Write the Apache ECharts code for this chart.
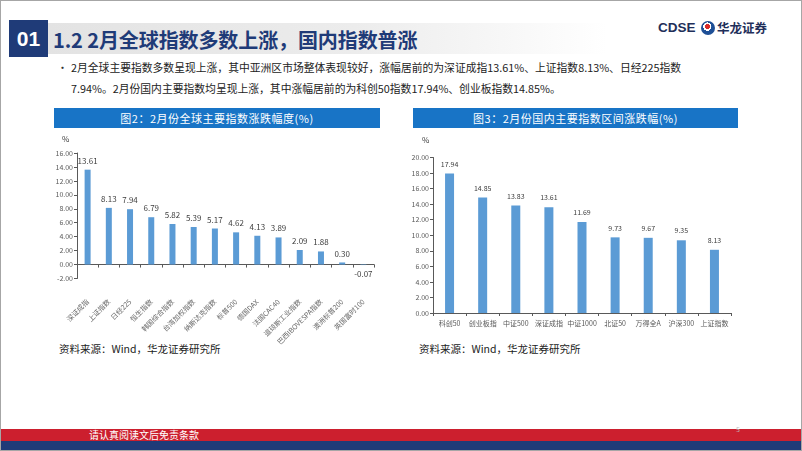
<!DOCTYPE html>
<html><head><meta charset="utf-8">
<script src="https://cdn.jsdelivr.net/npm/echarts@6/dist/echarts.min.js"></script>
<style>
html,body{margin:0;padding:0;background:#fff;}
#page{position:relative;width:802px;height:451px;overflow:hidden;font-family:"Noto Sans CJK SC","Noto Sans",sans-serif;box-sizing:border-box;border:1px solid #a6a6a6;}
.abs{position:absolute;white-space:nowrap;}
#chart{position:absolute;left:0;top:0;width:802px;height:451px;z-index:5;}
</style></head>
<body>
<div id="page">
  <div class="abs" style="left:46px;top:22px;width:560px;height:31px;background:linear-gradient(90deg,#e3e3e3 0%,#ececec 55%,#ffffff 100%);"></div>
  <div class="abs" style="left:8px;top:19px;width:39px;height:37px;background:#1f3b78;color:#fff;font-family:'Liberation Sans',Arial,sans-serif;font-weight:bold;font-size:21px;line-height:37px;text-align:center;">01</div>
  <div class="abs" style="left:52px;top:23px;height:31px;line-height:31px;color:#1f3b78;font-weight:bold;font-size:20px;letter-spacing:-0.1px;">1.2 2月全球指数多数上涨，国内指数普涨</div>
  <div class="abs" style="left:657px;top:17px;height:20px;line-height:20px;color:#1f2f5a;font-family:'Liberation Sans',Arial,sans-serif;font-weight:bold;font-size:13.5px;">CDSE</div>
  <div class="abs" style="left:700px;top:20px;width:14px;height:14px;border-radius:50%;background:radial-gradient(circle at 45% 40%,#d82c2c 0 22%,#ffffff 23% 36%,#1e4f96 37% 100%);"></div>
  <div class="abs" style="left:716px;top:17px;height:20px;line-height:20px;color:#1f2f5a;font-weight:bold;font-size:12.5px;">华龙证券</div>
  <div class="abs" style="left:56px;top:57px;height:18px;line-height:18px;font-size:11px;color:#333;">•</div>
  <div class="abs" style="left:70px;top:57px;height:18px;line-height:18px;font-size:10.8px;color:#222;">2月全球主要指数多数呈现上涨，其中亚洲区市场整体表现较好，涨幅居前的为深证成指13.61%、上证指数8.13%、日经225指数</div>
  <div class="abs" style="left:70px;top:78px;height:18px;line-height:18px;font-size:10.8px;color:#222;">7.94%。2月份国内主要指数均呈现上涨，其中涨幅居前的为科创50指数17.94%、创业板指数14.85%。</div>
  <div class="abs" style="left:53px;top:107px;width:326px;height:20px;line-height:20px;background:#1874c6;color:#fff;font-size:11px;text-align:center;letter-spacing:0.5px;">图2：2月份全球主要指数涨跌幅度(%)</div>
  <div class="abs" style="left:412px;top:107px;width:325px;height:20px;line-height:20px;background:#1874c6;color:#fff;font-size:11px;text-align:center;letter-spacing:0.5px;">图3：2月份国内主要指数区间涨跌幅(%)</div>
  <div class="abs" style="left:58px;top:340px;height:16px;line-height:16px;font-size:10.5px;color:#222;">资料来源：Wind，华龙证券研究所</div>
  <div class="abs" style="left:418px;top:340px;height:16px;line-height:16px;font-size:10.5px;color:#222;">资料来源：Wind，华龙证券研究所</div>
  <div class="abs" style="left:0;top:428px;width:802px;height:12px;background:#cc1f2e;"></div>
  <div class="abs" style="left:0;top:440px;width:802px;height:11px;background:#1f3b78;"></div>
  <div class="abs" style="left:88px;top:427px;height:14px;line-height:14px;font-size:10px;color:#fff;">请认真阅读文后免责条款</div>
  <div class="abs" style="left:735px;top:423px;height:10px;line-height:10px;font-size:7px;color:#bbb;">5</div>
  <div id="chart"></div>
</div>
<script>
const globalCats = ['深证成指','上证指数','日经225','恒生指数','韩国综合指数','台湾加权指数','纳斯达克指数','标普500','德国DAX','法国CAC40','道琼斯工业指数','巴西IBOVESPA指数','澳洲标普200','英国富时100'];
const globalVals = [13.61, 8.13, 7.94, 6.79, 5.82, 5.39, 5.17, 4.62, 4.13, 3.89, 2.09, 1.88, 0.30, -0.07];
const domCats = ['科创50','创业板指','中证500','深证成指','中证1000','北证50','万得全A','沪深300','上证指数'];
const domVals = [17.94, 14.85, 13.83, 13.61, 11.69, 9.73, 9.67, 9.35, 8.13];
const leftAxisRange = {min: -2, max: 16, interval: 2};
const rightAxisRange = {min: 0, max: 20, interval: 2};

const axisColor = '#595959';
const chart = echarts.init(document.getElementById('chart'), null, {renderer: 'canvas'});
const fontFam = '"Noto Sans CJK SC", "Noto Sans", sans-serif';

chart.setOption({
  backgroundColor: 'transparent',
  animation: false,
  textStyle: {fontFamily: fontFam},
  grid: [
    {left: 76, top: 152, width: 297, height: 125.5},
    {left: 432, top: 156.5, width: 298, height: 155.5}
  ],
  graphic: [
    {type: 'text', left: 61, top: 134, style: {text: '%', fontSize: 8, fill: '#404040', fontFamily: fontFam}},
    {type: 'text', left: 421, top: 135, style: {text: '%', fontSize: 8, fill: '#404040', fontFamily: fontFam}}
  ],
  xAxis: [
    {gridIndex: 0, type: 'category', data: globalCats,
     axisLine: {onZero: true, lineStyle: {color: axisColor}},
     axisTick: {show: true, length: 3, lineStyle: {color: axisColor}},
     axisLabel: {rotate: 45, fontSize: 7, color: '#6a6a6a', margin: 22, interval: 0}},
    {gridIndex: 1, type: 'category', data: domCats,
     axisLine: {lineStyle: {color: axisColor}},
     axisTick: {show: true, length: 3, lineStyle: {color: axisColor}},
     axisLabel: {fontSize: 7, color: '#595959', margin: 7, interval: 0}}
  ],
  yAxis: [
    {gridIndex: 0, type: 'value', min: leftAxisRange.min, max: leftAxisRange.max, interval: leftAxisRange.interval,
     splitLine: {show: false},
     axisLine: {show: true, lineStyle: {color: axisColor}},
     axisTick: {show: true, length: 3, lineStyle: {color: axisColor}},
     axisLabel: {fontSize: 7, color: '#595959', margin: 4, formatter: v => v.toFixed(2)}},
    {gridIndex: 1, type: 'value', min: rightAxisRange.min, max: rightAxisRange.max, interval: rightAxisRange.interval,
     splitLine: {show: false},
     axisLine: {show: true, lineStyle: {color: axisColor}},
     axisTick: {show: true, length: 3, lineStyle: {color: axisColor}},
     axisLabel: {fontSize: 7, color: '#595959', margin: 4, formatter: v => v.toFixed(2)}}
  ],
  series: [
    {type: 'bar', xAxisIndex: 0, yAxisIndex: 0, barWidth: 6,
     itemStyle: {color: '#5b9bd5'},
     data: globalVals.map(v => ({value: v, label: {position: v < 0 ? 'bottom' : 'top'}})),
     label: {show: true, fontSize: 8, color: '#404040', distance: 5, formatter: p => p.value.toFixed(2)}},
    {type: 'bar', xAxisIndex: 1, yAxisIndex: 1, barWidth: 9,
     itemStyle: {color: '#5b9bd5'},
     data: domVals,
     label: {show: true, position: 'top', fontSize: 7, color: '#404040', distance: 6, formatter: p => p.value.toFixed(2)}}
  ]
});
</script>
</body></html>
